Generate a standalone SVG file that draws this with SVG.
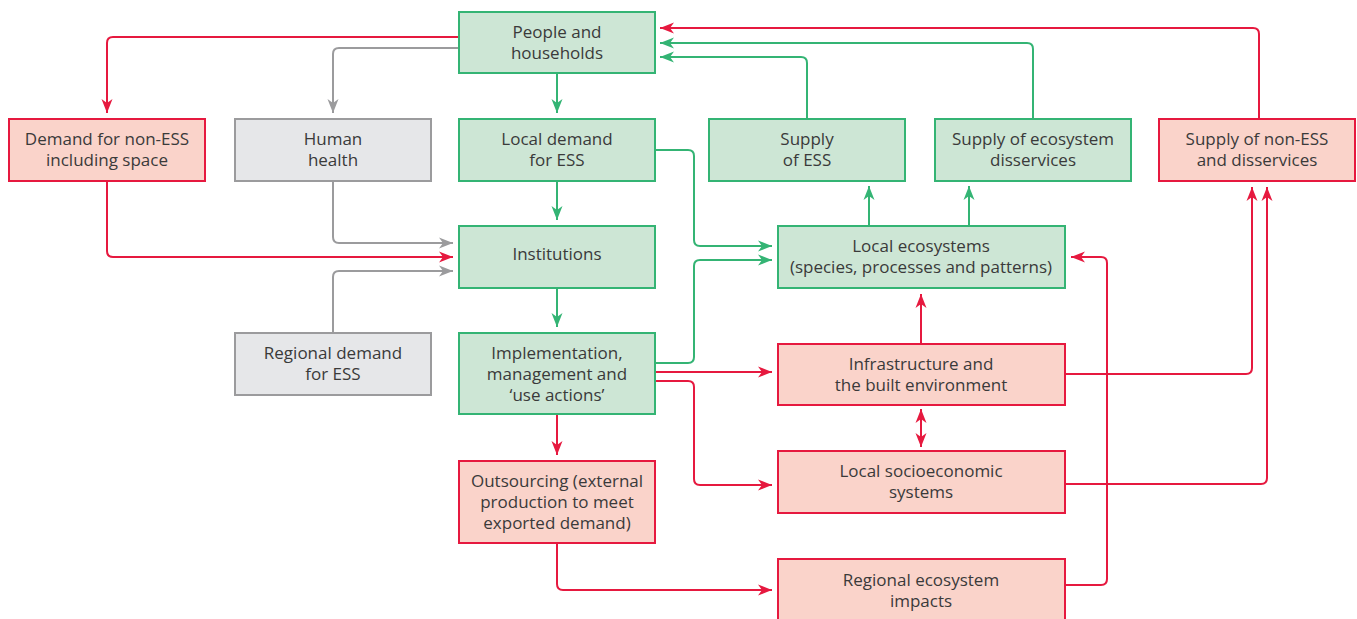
<svg xmlns="http://www.w3.org/2000/svg" width="1357" height="619" viewBox="0 0 1357 619">
<style>
rect{stroke-width:2}
.g rect{fill:#CDE6D5;stroke:#34B474}
.r rect{fill:#FAD3CA;stroke:#E6193F}
.k rect{fill:#E6E7E9;stroke:#9B9B9D}
text{font-family:"Open Sans","Noto Sans","Liberation Sans",sans-serif;font-size:17px;fill:#3A3A3A;text-anchor:middle}
.c path{fill:none;stroke-width:2}
.cg{stroke:#34B474}
.cr{stroke:#E6193F}
.ck{stroke:#9B9B9D}
</style>
<defs>
<marker id="ag" viewBox="0 -6 14 12" refX="14" refY="0" markerWidth="14" markerHeight="12" markerUnits="userSpaceOnUse" orient="auto-start-reverse"><path d="M0,-5.5 L14,0 L0,5.5 L4,0 z" fill="#34B474"/></marker>
<marker id="ar" viewBox="0 -6 14 12" refX="14" refY="0" markerWidth="14" markerHeight="12" markerUnits="userSpaceOnUse" orient="auto-start-reverse"><path d="M0,-5.5 L14,0 L0,5.5 L4,0 z" fill="#E6193F"/></marker>
<marker id="ak" viewBox="0 -6 14 12" refX="14" refY="0" markerWidth="14" markerHeight="12" markerUnits="userSpaceOnUse" orient="auto-start-reverse"><path d="M0,-5.5 L14,0 L0,5.5 L4,0 z" fill="#9B9B9D"/></marker>
</defs>
<rect width="1357" height="619" fill="#fff" style="stroke:none"/>
<g id="connectors" class="c">
<path class="cr" d="M459,37 H113 Q107,37 107,43 V113" marker-end="url(#ar)"/>
<path class="ck" d="M459,48 H339 Q333,48 333,54 V113" marker-end="url(#ak)"/>
<path class="cg" d="M557,73 V113" marker-end="url(#ag)"/>
<path class="cg" d="M557,181 V220" marker-end="url(#ag)"/>
<path class="cg" d="M557,288 V327" marker-end="url(#ag)"/>
<path class="cr" d="M557,414 V455" marker-end="url(#ar)"/>
<path class="cr" d="M107,181 V251 Q107,257 113,257 H453" marker-end="url(#ar)"/>
<path class="ck" d="M333,181 V237 Q333,243 339,243 H453" marker-end="url(#ak)"/>
<path class="ck" d="M333,333 V277 Q333,271 339,271 H453" marker-end="url(#ak)"/>
<path class="cg" d="M655,150 H688 Q694,150 694,156 V240 Q694,246 700,246 H772" marker-end="url(#ag)"/>
<path class="cg" d="M655,363 H688 Q694,363 694,357 V266 Q694,260 700,260 H772" marker-end="url(#ag)"/>
<path class="cr" d="M655,372 H772" marker-end="url(#ar)"/>
<path class="cr" d="M655,381 H688 Q694,381 694,387 V479 Q694,485 700,485 H772" marker-end="url(#ar)"/>
<path class="cr" d="M557,543 V584 Q557,590 563,590 H772" marker-end="url(#ar)"/>
<path class="cr" d="M1065,585 H1101 Q1107,585 1107,579 V263 Q1107,257 1101,257 H1071" marker-end="url(#ar)"/>
<path class="cr" d="M921,344 V294" marker-end="url(#ar)"/>
<path class="cr" d="M921,409 V447" marker-start="url(#ar)" marker-end="url(#ar)"/>
<path class="cg" d="M869,226 V186" marker-end="url(#ag)"/>
<path class="cg" d="M969,226 V186" marker-end="url(#ag)"/>
<path class="cr" d="M1065,374 H1246 Q1252,374 1252,368 V187" marker-end="url(#ar)"/>
<path class="cr" d="M1065,484 H1261 Q1267,484 1267,478 V187" marker-end="url(#ar)"/>
<path class="cr" d="M1259,119 V34 Q1259,28 1253,28 H660" marker-end="url(#ar)"/>
<path class="cg" d="M1033,119 V49 Q1033,43 1027,43 H660" marker-end="url(#ag)"/>
<path class="cg" d="M807,119 V63 Q807,57 801,57 H660" marker-end="url(#ag)"/>
</g>
<g id="people" class="g"><rect x="459" y="12" width="196" height="61"/><text x="557" y="38">People and</text><text x="557" y="59">households</text></g>
<g id="demand-non-ess" class="r"><rect x="9" y="119" width="196" height="62"/><text x="107" y="145">Demand for non-ESS</text><text x="107" y="166">including space</text></g>
<g id="human-health" class="k"><rect x="235" y="119" width="196" height="62"/><text x="333" y="145">Human</text><text x="333" y="166">health</text></g>
<g id="local-demand" class="g"><rect x="459" y="119" width="196" height="62"/><text x="557" y="145">Local demand</text><text x="557" y="166">for ESS</text></g>
<g id="supply-ess" class="g"><rect x="709" y="119" width="196" height="62"/><text x="807" y="145">Supply</text><text x="807" y="166">of ESS</text></g>
<g id="supply-disservices" class="g"><rect x="935" y="119" width="196" height="62"/><text x="1033" y="145">Supply of ecosystem</text><text x="1033" y="166">disservices</text></g>
<g id="supply-non-ess" class="r"><rect x="1159" y="119" width="196" height="62"/><text x="1257" y="145">Supply of non-ESS</text><text x="1257" y="166">and disservices</text></g>
<g id="institutions" class="g"><rect x="459" y="226" width="196" height="62"/><text x="557" y="260">Institutions</text></g>
<g id="local-ecosystems" class="g"><rect x="778" y="226" width="287" height="62"/><text x="921" y="252">Local ecosystems</text><text x="921" y="273">(species, processes and patterns)</text></g>
<g id="regional-demand" class="k"><rect x="235" y="333" width="196" height="62"/><text x="333" y="359">Regional demand</text><text x="333" y="380">for ESS</text></g>
<g id="implementation" class="g"><rect x="459" y="333" width="196" height="81"/><text x="557" y="359">Implementation,</text><text x="557" y="380">management and</text><text x="557" y="401">‘use actions’</text></g>
<g id="infrastructure" class="r"><rect x="778" y="344" width="287" height="61"/><text x="921" y="370">Infrastructure and</text><text x="921" y="391">the built environment</text></g>
<g id="socioeconomic" class="r"><rect x="778" y="451" width="287" height="62"/><text x="921" y="477">Local socioeconomic</text><text x="921" y="498">systems</text></g>
<g id="outsourcing" class="r"><rect x="459" y="461" width="196" height="82"/><text x="557" y="487">Outsourcing (external</text><text x="557" y="508">production to meet</text><text x="557" y="529">exported demand)</text></g>
<g id="regional-impacts" class="r"><rect x="778" y="559" width="287" height="62"/><text x="921" y="586">Regional ecosystem</text><text x="921" y="607">impacts</text></g>
</svg>
